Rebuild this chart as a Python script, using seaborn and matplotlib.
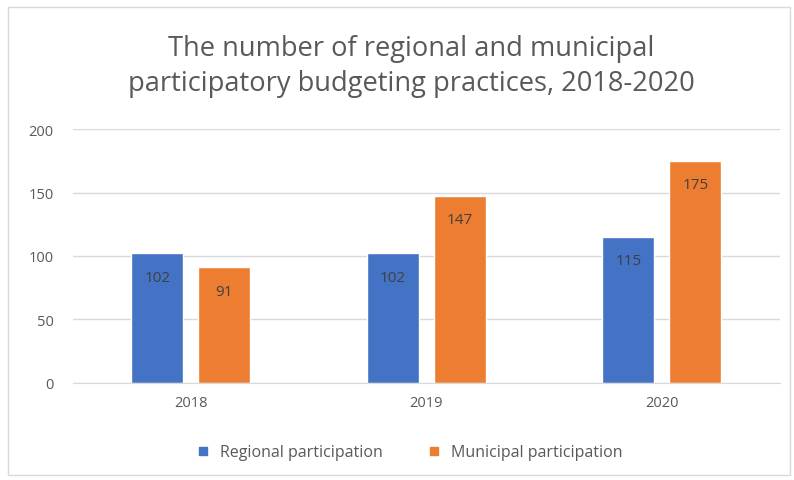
import matplotlib
matplotlib.use("Agg")
import matplotlib.pyplot as plt
import seaborn as sns
import pandas as pd
from matplotlib.patches import Rectangle
from matplotlib.lines import Line2D

years = ["2018", "2019", "2020"]
regional = [102, 102, 115]
municipal = [91, 147, 175]
series_names = ["Regional participation", "Municipal participation"]
colors = ["#4472C4", "#ED7D31"]

df = pd.DataFrame({
    "year": years * 2,
    "value": regional + municipal,
    "series": [series_names[0]] * 3 + [series_names[1]] * 3,
})

sns.set_style("white")
plt.rcParams["font.family"] = ["Open Sans", "DejaVu Sans"]

fig = plt.figure(figsize=(7.94, 4.81), dpi=100)
ax = fig.add_axes([0.092, 0.2017, 0.890, 0.528])

sns.barplot(data=df, x="year", y="value", hue="series", palette=colors,
            width=0.569, gap=0.224, ax=ax, legend=False, saturation=1)

ax.set_ylim(0, 200)
ax.set_xlim(-0.5, 2.5)
ax.set_yticks([0, 50, 100, 150, 200])
ax.grid(axis="y", color="#D9D9D9", linewidth=1)
ax.set_axisbelow(True)
for s in ["top", "right", "left"]:
    ax.spines[s].set_visible(False)
ax.spines["bottom"].set_color("#D9D9D9")
ax.tick_params(axis="x", length=0, labelsize=10.5, labelcolor="#595959", pad=9)
ax.tick_params(axis="y", length=0, labelsize=10.5, labelcolor="#595959", pad=14)
ax.set_xlabel("")
ax.set_ylabel("")

# value labels just inside the top of each bar
for cont in ax.containers:
    for bar in cont:
        h = bar.get_height()
        ax.annotate(f"{int(h)}", (bar.get_x() + bar.get_width() / 2, h),
                    xytext=(0, -17), textcoords="offset points",
                    ha="center", va="center", fontsize=11, color="#404040")

fig.text(0.518, 0.862, "The number of regional and municipal\nparticipatory budgeting practices, 2018-2020",
         ha="center", va="center", fontsize=19.6, color="#595959", linespacing=1.3)

handles = [Line2D([], [], marker="s", linestyle="", markersize=6, color=c) for c in colors]
fig.legend(handles, series_names, loc="center", bbox_to_anchor=(0.51, 0.058), ncol=2,
           frameon=False, fontsize=11.5, labelcolor="#595959", handletextpad=0.05,
           columnspacing=2.2)

fig.patches.append(Rectangle((0.01, 0.01), 0.985, 0.973, transform=fig.transFigure,
                             fill=False, edgecolor="#D9D9D9", linewidth=1))

fig.savefig("out.png", dpi=100)
